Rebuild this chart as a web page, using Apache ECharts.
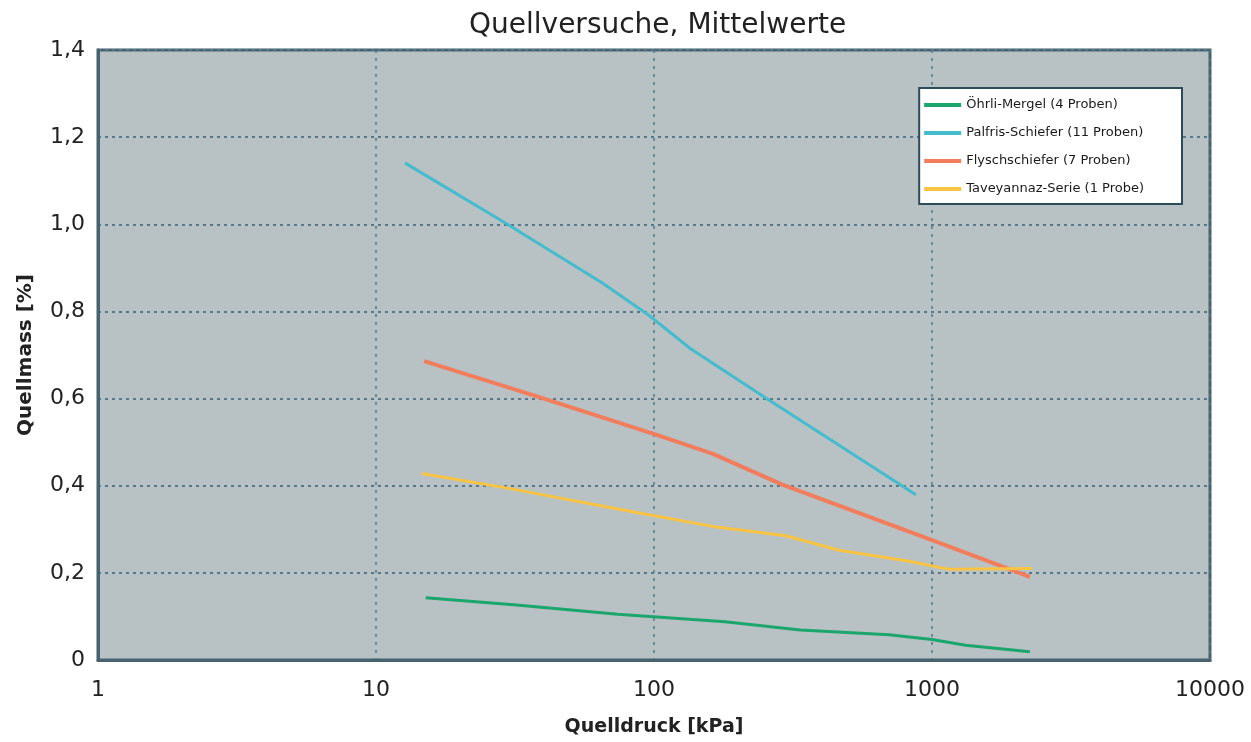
<!DOCTYPE html>
<html>
<head>
<meta charset="utf-8">
<script src="https://cdn.jsdelivr.net/npm/echarts@6/dist/echarts.min.js"></script>
<style>
  html, body { margin: 0; padding: 0; background: #ffffff; }
  #chart { width: 1251px; height: 742px; }
</style>
</head>
<body>
<div id="chart"></div>
<script>
// Mean swelling strain (%) against swelling pressure (kPa), per rock type
const seriesNames = [
  'Öhrli-Mergel (4 Proben)',
  'Palfris-Schiefer (11 Proben)',
  'Flyschschiefer (7 Proben)',
  'Taveyannaz-Serie (1 Probe)'
];

// [pressure kPa, swelling %]
const oehrliMergel = [
  [15.1, 0.143], [32, 0.126], [74, 0.105], [180, 0.088], [336, 0.069],
  [700, 0.058], [1000, 0.047], [1320, 0.034], [2250, 0.019]
];
const palfrisSchiefer = [
  [12.7, 1.141], [29.4, 1.002], [65, 0.866], [95, 0.793], [135, 0.715],
  [254, 0.600], [875, 0.379]
];
const flyschschiefer = [
  [14.9, 0.686], [36.7, 0.608], [101, 0.518], [163, 0.473], [288, 0.403],
  [875, 0.289], [1000, 0.275], [2250, 0.191]
];
const taveyannazSerie = [
  [14.6, 0.428], [29.4, 0.395], [81, 0.342], [168, 0.305], [298, 0.285],
  [463, 0.252], [819, 0.227], [1155, 0.208], [2290, 0.210]
];

const seriesColors = ['#1aa66c', '#45bccd', '#f27d5c', '#f9c443'];
const xTickValues = [1, 10, 100, 1000, 10000];

const chart = echarts.init(document.getElementById('chart'), null, { renderer: 'canvas' });

const allData = [oehrliMergel, palfrisSchiefer, flyschschiefer, taveyannazSerie];

chart.setOption({
  animation: false,
  backgroundColor: '#ffffff',
  textStyle: { fontFamily: 'DejaVu Sans, sans-serif' },
  title: {
    text: 'Quellversuche, Mittelwerte',
    left: 464,
    top: 7,
    textStyle: { fontSize: 28, fontWeight: 'normal', color: '#222222' }
  },
  legend: {
    data: seriesNames,
    orient: 'vertical',
    right: 69,
    top: 88,
    padding: [9, 38, 7, 5],
    itemGap: 12,
    itemWidth: 37,
    itemHeight: 4,
    backgroundColor: '#ffffff',
    borderColor: '#2d4c5a',
    borderWidth: 2,
    textStyle: { fontSize: 13, lineHeight: 16, color: '#1a1a1a' },
    icon: 'rect'
  },
  grid: {
    left: 98, right: 41, top: 50, bottom: 82,
    show: true,
    backgroundColor: '#b8c1c4',
    borderColor: '#47636f',
    borderWidth: 3
  },
  xAxis: {
    type: 'log',
    logBase: 10,
    min: 1,
    max: 10000,
    name: 'Quelldruck [kPa]',
    nameLocation: 'middle',
    nameGap: 58,
    nameTextStyle: { fontSize: 19, fontWeight: 'bold', color: '#222222' },
    axisLine: { show: true, lineStyle: { color: '#47636f', width: 3 } },
    axisTick: { show: false },
    axisLabel: {
      fontSize: 22, color: '#222222', margin: 19,
      formatter: function (v) { return xTickValues.indexOf(Math.round(v)) >= 0 ? String(Math.round(v)) : ''; }
    },
    splitLine: { show: true, lineStyle: { color: '#55788a', type: [3, 5], width: 1.5 } },
    minorSplitLine: { show: false }
  },
  yAxis: {
    type: 'value',
    min: 0,
    max: 1.4,
    interval: 0.2,
    name: 'Quellmass [%]',
    nameLocation: 'middle',
    nameGap: 62,
    nameRotate: 90,
    nameTextStyle: { fontSize: 20, fontWeight: 'bold', color: '#222222' },
    axisLine: { show: true, lineStyle: { color: '#47636f', width: 3 } },
    axisTick: { show: false },
    axisLabel: {
      fontSize: 22, color: '#222222', margin: 13,
      formatter: function (v) { return v === 0 ? '0' : v.toFixed(1).replace('.', ','); }
    },
    splitLine: { show: true, lineStyle: { color: '#55788a', type: [3, 4], width: 2 } }
  },
  series: seriesNames.map(function (name, i) {
    return {
      name: name,
      type: 'line',
      data: allData[i],
      showSymbol: false,
      symbol: 'none',
      color: seriesColors[i],
      lineStyle: { width: i === 2 ? 4 : 3, color: seriesColors[i] }
    };
  })
});
</script>
</body>
</html>
